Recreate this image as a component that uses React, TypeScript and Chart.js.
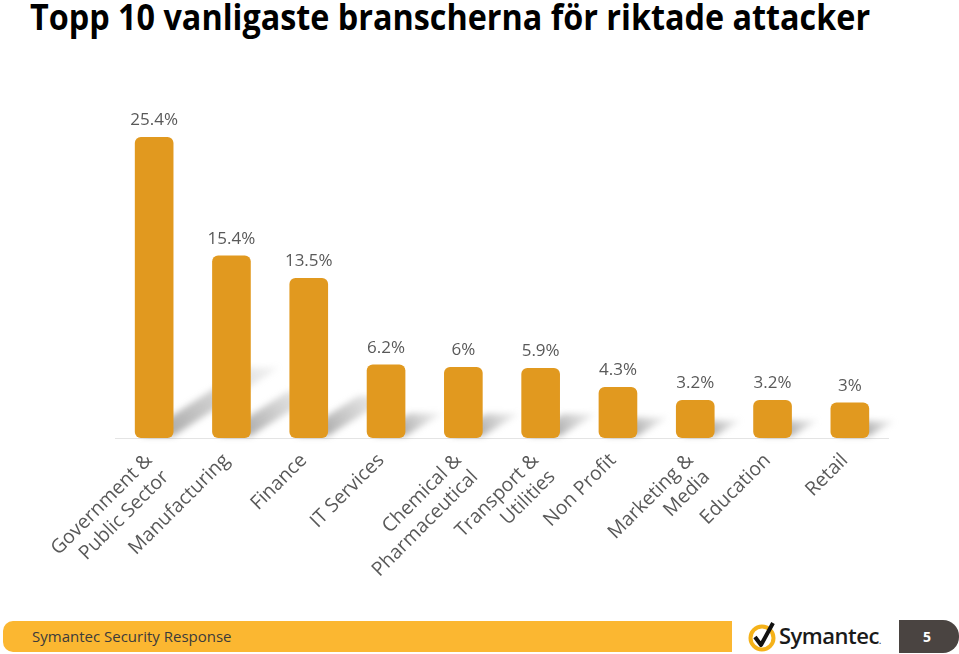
import React, { useEffect, useRef } from "react";
import { Chart, registerables } from "chart.js";

Chart.register(...registerables);

const TITLE = "Topp 10 vanligaste branscherna för riktade attacker";
const categories: (string | string[])[] = [
  ["Government &", "Public Sector"],
  "Manufacturing",
  "Finance",
  "IT Services",
  ["Chemical &", "Pharmaceutical"],
  ["Transport &", "Utilities"],
  "Non Profit",
  ["Marketing &", "Media"],
  "Education",
  "Retail",
];
const shares = [25.4, 15.4, 13.5, 6.2, 6, 5.9, 4.3, 3.2, 3.2, 3];
const FOOTER_TEXT = "Symantec Security Response";
const PAGE_NO = "5";

const BAR_COLOR = "#E1991F";
const TEXT_GRAY = "#595959";

const shadowPlugin = {
  id: "floorShadow",
  beforeDatasetsDraw(chart: any) {
    const ctx = chart.ctx;
    const meta = chart.getDatasetMeta(0);
    ctx.save();
    ctx.filter = "blur(3px)";
    meta.data.forEach((el: any) => {
      const w = el.width;
      const left = el.x - w / 2;
      const right = el.x + w / 2;
      const base = el.base;
      const h = base - el.y;
      const dx = 15 + 0.3 * h;
      const dy = 10 + 0.2 * h;
      const g = ctx.createLinearGradient(right, base, right + dx, base - dy);
      g.addColorStop(0, "rgba(90,90,90,0.5)");
      g.addColorStop(0.5, "rgba(130,130,130,0.35)");
      g.addColorStop(1, "rgba(170,170,170,0.15)");
      ctx.fillStyle = g;
      ctx.beginPath();
      ctx.moveTo(left + 6, base - 2);
      ctx.lineTo(right, base - 2);
      ctx.lineTo(right + dx, base - dy);
      ctx.lineTo(left + 6 + dx, base - dy);
      ctx.closePath();
      ctx.fill();
    });
    ctx.restore();
  },
};

const valueLabelPlugin = {
  id: "valueLabels",
  afterDatasetsDraw(chart: any) {
    const ctx = chart.ctx;
    const meta = chart.getDatasetMeta(0);
    const data = chart.data.datasets[0].data as number[];
    ctx.save();
    ctx.font = "17px 'Open Sans', sans-serif";
    ctx.fillStyle = TEXT_GRAY;
    ctx.textAlign = "center";
    ctx.textBaseline = "bottom";
    meta.data.forEach((el: any, i: number) => {
      ctx.fillText(`${data[i]}%`, el.x, el.y - 8);
    });
    ctx.restore();
  },
};

function BarChart() {
  const ref = useRef<HTMLCanvasElement | null>(null);
  useEffect(() => {
    if (!ref.current) return;
    const chart = new Chart(ref.current, {
      type: "bar",
      data: {
        labels: categories,
        datasets: [
          {
            data: shares,
            backgroundColor: BAR_COLOR,
            borderRadius: 6,
            borderSkipped: false,
            barPercentage: 0.5,
            categoryPercentage: 1,
          },
        ],
      },
      options: {
        responsive: false,
        animation: false,
        events: [],
        layout: { padding: { left: 115.5, right: 70.5, top: 22.5, bottom: 0 } },
        plugins: { legend: { display: false }, tooltip: { enabled: false }, title: { display: false } },
        scales: {
          y: { display: false, min: 0, max: 30 },
          x: {
            grid: { display: false },
            border: { display: true, color: "#e4e4e4", width: 1 },
            afterFit(scale: any) {
              scale.height = 162;
            },
            ticks: {
              autoSkip: false,
              minRotation: 45,
              maxRotation: 45,
              color: TEXT_GRAY,
              font: { family: "'Open Sans', sans-serif", size: 19.5 },
              padding: 3,
              labelOffset: -5,
            },
          },
        },
      },
      plugins: [shadowPlugin, valueLabelPlugin],
    });
    return () => chart.destroy();
  }, []);
  return (
    <canvas
      ref={ref}
      width={959}
      height={540}
      style={{ position: "absolute", left: 0, top: 60, width: 959, height: 540 }}
    />
  );
}

export default function App() {
  return (
    <div
      style={{
        position: "absolute",
        left: 0,
        top: 0,
        width: 959,
        height: 654,
        background: "#fff",
        overflow: "hidden",
      }}
    >
      <div
        style={{
          position: "absolute",
          left: 30,
          top: -7,
          fontFamily: "'Open Sans', sans-serif",
          fontWeight: 700,
          fontSize: 35,
          lineHeight: "normal",
          color: "#000",
          whiteSpace: "nowrap",
          transform: "scaleX(0.924)",
          transformOrigin: "0 0",
        }}
      >
        {TITLE}
      </div>
      <BarChart />
      <div
        style={{
          position: "absolute",
          left: 3,
          top: 621,
          width: 729,
          height: 31,
          background: "#FBB731",
          borderRadius: "10px 0 0 10px",
        }}
      >
        <span
          style={{
            position: "absolute",
            left: 29,
            top: 5,
            fontFamily: "'Open Sans', sans-serif",
            fontSize: 15,
            color: "#3b3b3b",
            whiteSpace: "nowrap",
          }}
        >
          {FOOTER_TEXT}
        </span>
      </div>
      <svg
        width={32}
        height={34}
        viewBox="0 0 32 34"
        style={{ position: "absolute", left: 748, top: 619 }}
      >
        <circle cx={14} cy={19} r={11.5} fill="none" stroke="#F5B21A" strokeWidth={4} />
        <path d="M7 18 L13 26 L25 4" fill="none" stroke="#111" strokeWidth={4} strokeLinejoin="round" />
      </svg>
      <div
        style={{
          position: "absolute",
          left: 779,
          top: 620,
          fontFamily: "'Open Sans', sans-serif",
          fontWeight: 600,
          fontSize: 22,
          color: "#1a1a1a",
          whiteSpace: "nowrap",
          letterSpacing: -0.5,
        }}
      >
        Symantec<span style={{ fontSize: 8 }}>.</span>
      </div>
      <div
        style={{
          position: "absolute",
          left: 899,
          top: 620,
          width: 60,
          height: 33,
          background: "#4A4441",
          borderRadius: "0 16px 16px 0",
          color: "#fff",
          fontFamily: "'Open Sans', sans-serif",
          fontWeight: 700,
          fontSize: 14,
          display: "flex",
          alignItems: "center",
          justifyContent: "center",
          boxSizing: "border-box",
          paddingRight: 4,
        }}
      >
        {PAGE_NO}
      </div>
    </div>
  );
}
